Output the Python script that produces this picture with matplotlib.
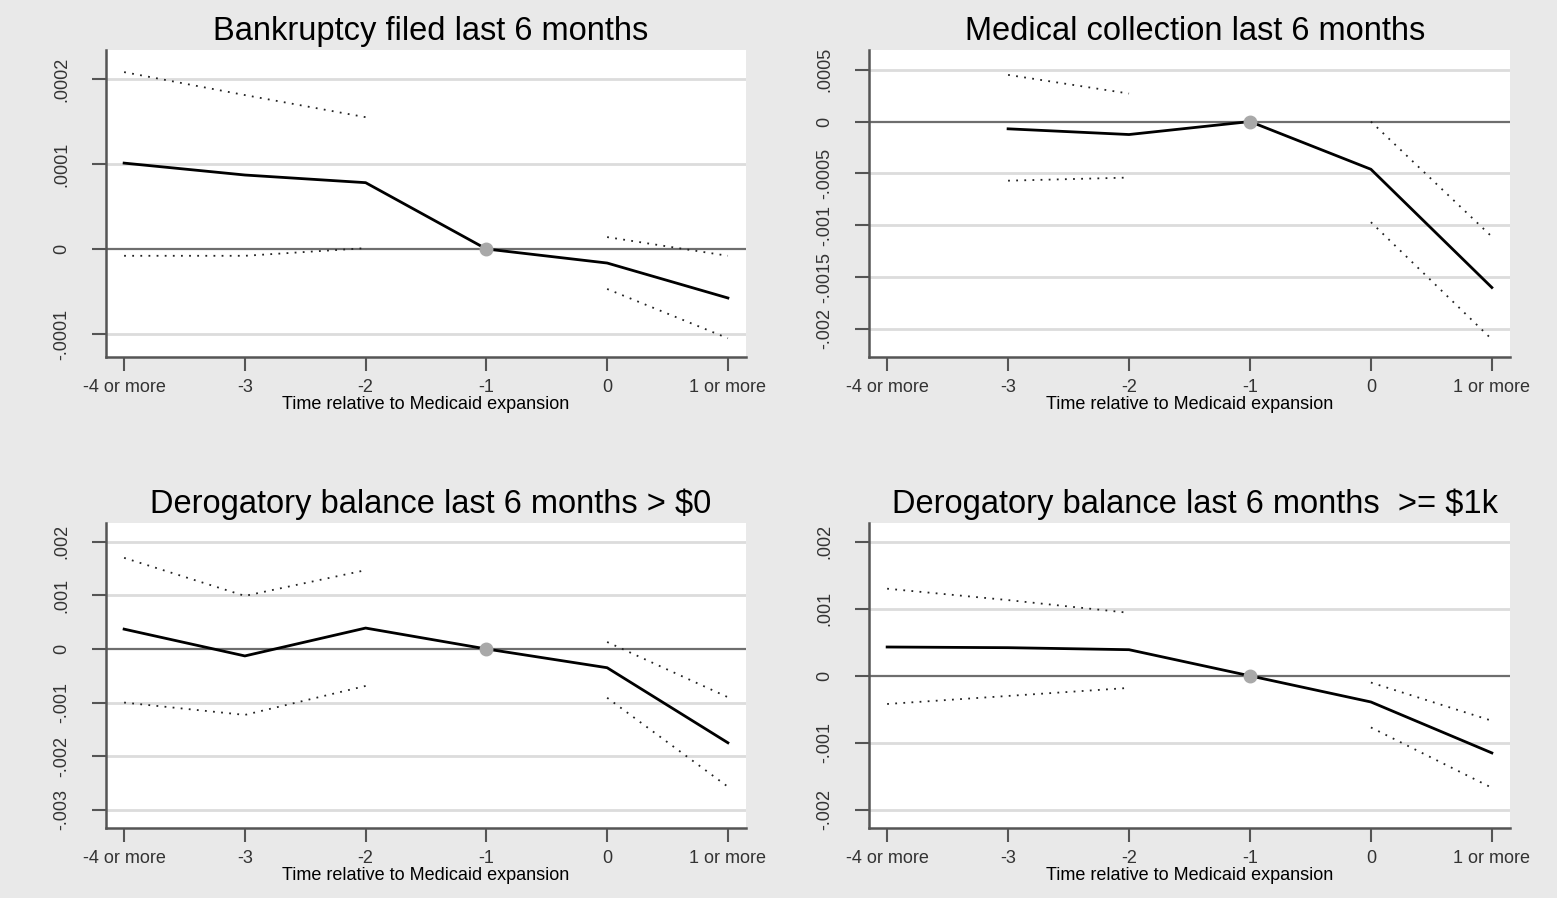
# Event-study plots: four outcomes relative to Medicaid expansion
import matplotlib.pyplot as plt
import numpy as np

plt.rcParams['font.family'] = ['Liberation Sans', 'DejaVu Sans']

nan = np.nan
periods = [-4, -3, -2, -1, 0, 1]
period_labels = ['-4 or more', '-3', '-2', '-1', '0', '1 or more']

titles = ['Bankruptcy filed last 6 months',
          'Medical collection last 6 months',
          'Derogatory balance last 6 months > $0',
          'Derogatory balance last 6 months  >= $1k']

# point estimates and 95% CI bounds (reference period -1 normalised to 0)
est_bankr = [0.000101, 0.000087, 0.000078, 0, -0.0000165, -0.0000576]
hi_bankr = [0.000208, 0.000181, 0.000155, nan, 0.000014, -0.000008]
lo_bankr = [-0.000008, -0.000008, 0.000001, nan, -0.000047, -0.000105]

est_med = [nan, -0.00007, -0.000125, 0, -0.00046, -0.0016]
hi_med = [nan, 0.00045, 0.00027, nan, 0.0, -0.00111]
lo_med = [nan, -0.00057, -0.00054, nan, -0.00097, -0.0021]

est_derog0 = [0.00037, -0.00013, 0.00039, 0, -0.00035, -0.00175]
hi_derog0 = [0.0017, 0.00099, 0.00147, nan, 0.00013, -0.0009]
lo_derog0 = [-0.001, -0.00123, -0.00069, nan, -0.00091, -0.00257]

est_derog1k = [0.00043, 0.00042, 0.00039, 0, -0.00039, -0.00115]
hi_derog1k = [0.0013, 0.00113, 0.00094, nan, -0.0001, -0.00067]
lo_derog1k = [-0.00042, -0.0003, -0.00018, nan, -0.00077, -0.00167]

yticks = [[-0.0001, 0, 0.0001, 0.0002],
          [-0.002, -0.0015, -0.001, -0.0005, 0, 0.0005],
          [-0.003, -0.002, -0.001, 0, 0.001, 0.002],
          [-0.002, -0.001, 0, 0.001, 0.002]]
ytick_labels = [['-.0001', '0', '.0001', '.0002'],
                ['-.002', '-.0015', '-.001', '-.0005', '0', '.0005'],
                ['-.003', '-.002', '-.001', '0', '.001', '.002'],
                ['-.002', '-.001', '0', '.001', '.002']]
ylims = [(-0.000127, 0.000234), (-0.00227, 0.00069),
         (-0.00334, 0.00235), (-0.00227, 0.00228)]

series = [(est_bankr, hi_bankr, lo_bankr),
          (est_med, hi_med, lo_med),
          (est_derog0, hi_derog0, lo_derog0),
          (est_derog1k, hi_derog1k, lo_derog1k)]

W, H = 1557, 898
fig = plt.figure(figsize=(W / 100, H / 100), dpi=100, facecolor='#e9e9e9')

# axes boxes in pixels: left, top, right, bottom
boxes = [(106, 50, 746, 357), (869, 50, 1510, 357),
         (106, 523, 746, 828), (869, 523, 1510, 828)]

for i in range(4):
    l, t, r, b = boxes[i]
    ax = fig.add_axes([l / W, 1 - b / H, (r - l) / W, (b - t) / H])
    ax.set_facecolor('white')
    est, hi, lo = series[i]

    for yv in yticks[i]:
        if yv != 0:
            ax.axhline(yv, color='#dcdcdc', lw=2, zorder=1)
    ax.axhline(0, color='#6e6e6e', lw=1.6, zorder=2)

    ax.plot(periods, hi, color='#222222', lw=1.3, linestyle=(0, (1, 3.5)), zorder=3)
    ax.plot(periods, lo, color='#222222', lw=1.3, linestyle=(0, (1, 3.5)), zorder=3)
    ax.plot(periods, est, color='black', lw=2, zorder=4)
    ax.plot(periods[3], est[3], 'o', color='#a9a9a9', markersize=9, zorder=5)

    ax.set_xlim(-4.15, 1.15)
    ax.set_ylim(ylims[i])
    ax.set_xticks(periods)
    ax.set_xticklabels(period_labels, fontsize=13)
    ax.set_yticks(yticks[i])
    ax.set_yticklabels(ytick_labels[i], fontsize=13, rotation=90, va='center')
    ax.set_xlabel('Time relative to Medicaid expansion', fontsize=13, labelpad=0)
    ax.set_title(titles[i], fontsize=23.5, pad=7, x=0.508)

    for s in ['top', 'right']:
        ax.spines[s].set_visible(False)
    for s in ['left', 'bottom']:
        ax.spines[s].set_color('#555555')
        ax.spines[s].set_linewidth(1.8)
    ax.tick_params(direction='out', length=10, width=1.5, color='#555555',
                   labelcolor='#333333')
    ax.tick_params(axis='x', pad=6)
    ax.tick_params(axis='y', pad=16)

plt.savefig('out.png', dpi=100, facecolor=fig.get_facecolor())
